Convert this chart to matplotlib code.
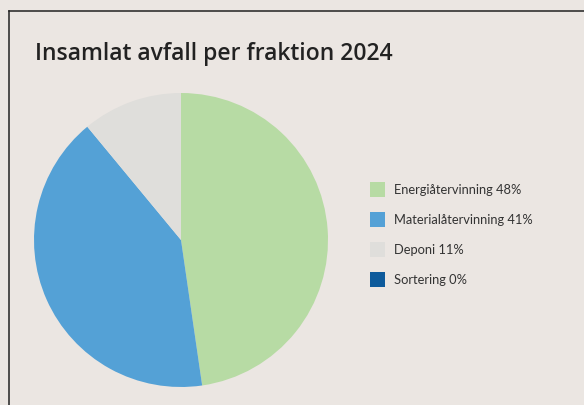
import matplotlib.pyplot as plt
from matplotlib.patches import Rectangle
from matplotlib.lines import Line2D

categories = ['Energiåtervinning', 'Materialåtervinning', 'Deponi', 'Sortering']
values = [47.7, 41.3, 11.0, 0.0]
labels = ['48%', '41%', '11%', '0%']
colors = ['#b7dba4', '#54a1d6', '#dfdedb', '#0d5a9b']

W, H = 584, 405
bg = '#ebe6e2'

fig = plt.figure(figsize=(W / 100, H / 100), dpi=100, facecolor=bg)

# frame (top and left edges visible)
fig.add_artist(Line2D([8.5 / W, 8.5 / W], [0, 1 - 11 / H], color='#222222', lw=1.1))
fig.add_artist(Line2D([8.5 / W, 1], [1 - 11 / H, 1 - 11 / H], color='#222222', lw=1.1))

fig.text(35 / W, 1 - 54 / H, 'Insamlat avfall per fraktion 2024', fontsize=16.5,
         fontweight='semibold', family='Open Sans', color='#222222', va='center', ha='left')

# pie
cx, cy, r = 181, 240, 147
ax = fig.add_axes([(cx - r) / W, 1 - (cy + r) / H, 2 * r / W, 2 * r / H])
ax.set_facecolor(bg)
ax.pie(values, colors=colors, startangle=90, counterclock=False, radius=1,
       wedgeprops=dict(linewidth=0))
ax.set_xlim(-1, 1)
ax.set_ylim(-1, 1)
ax.set_aspect('equal')
ax.axis('off')

# legend
for i, (cat, lab, col) in enumerate(zip(categories, labels, colors)):
    yc = 189.5 + 30 * i
    fig.add_artist(Rectangle((370 / W, 1 - (yc + 7.5) / H), 15 / W, 15 / H,
                             transform=fig.transFigure, facecolor=col, edgecolor='none'))
    fig.text(394 / W, 1 - yc / H, f'{cat} {lab}', fontsize=9.3, family='Lato',
             color='#333333', va='center', ha='left')

fig.savefig('out.png', dpi=100, facecolor=bg)
